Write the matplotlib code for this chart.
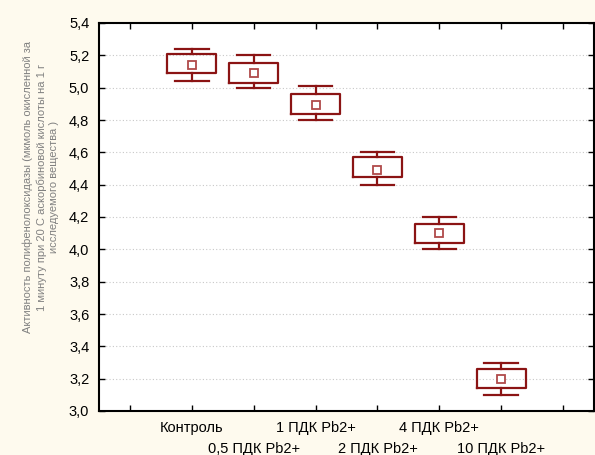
import matplotlib
matplotlib.use("Agg")
import matplotlib.pyplot as plt

plt.rcParams['font.family'] = ['Liberation Sans', 'DejaVu Sans']

# Data
groups = ['Контроль', '0,5 ПДК Pb2+', '1 ПДК Pb2+', '2 ПДК Pb2+', '4 ПДК Pb2+', '10 ПДК Pb2+']
means = [5.14, 5.09, 4.895, 4.49, 4.10, 3.20]
box_lo = [5.09, 5.03, 4.84, 4.45, 4.04, 3.145]
box_hi = [5.21, 5.15, 4.96, 4.57, 4.155, 3.26]
whisk_lo = [5.04, 5.00, 4.80, 4.40, 4.00, 3.10]
whisk_hi = [5.24, 5.20, 5.01, 4.60, 4.20, 3.30]
yticks = [3.0, 3.2, 3.4, 3.6, 3.8, 4.0, 4.2, 4.4, 4.6, 4.8, 5.0, 5.2, 5.4]

RED = '#8b1414'
BG = '#fefaee'

fig = plt.figure(figsize=(5.95, 4.55), dpi=100, facecolor=BG)
ax = fig.add_axes([99 / 595, 1 - 411 / 455, 495 / 595, 388 / 455])
ax.set_facecolor('white')

positions = list(range(1, len(groups) + 1))
stats = []
for i in range(len(groups)):
    stats.append({'med': means[i], 'mean': means[i], 'q1': box_lo[i], 'q3': box_hi[i],
                  'whislo': whisk_lo[i], 'whishi': whisk_hi[i], 'fliers': []})

ax.bxp(stats, positions=positions, widths=0.79, capwidths=0.54, showmeans=True,
       boxprops=dict(color=RED, linewidth=1.6),
       whiskerprops=dict(color=RED, linewidth=1.6),
       capprops=dict(color=RED, linewidth=1.6),
       medianprops=dict(linestyle='none'),
       meanprops=dict(marker='s', markersize=5.5, markerfacecolor='white',
                      markeredgecolor='#b04a4a', markeredgewidth=1.3),
       zorder=3)

ax.set_xlim(-0.5, 7.5)
ax.set_ylim(3.0, 5.4)
ax.set_yticks(yticks)
ax.set_yticklabels([f'{v:.1f}'.replace('.', ',') for v in yticks])
ax.yaxis.grid(True, linestyle=(0, (1, 2)), color='#c8c8c8', linewidth=0.8)
ax.set_axisbelow(True)

# labels on two rows: odd groups on major ticks, even groups on minor ticks
major_pos = [0] + positions[0::2] + [7]
minor_pos = positions[1::2]
ax.set_xticks(major_pos)
ax.set_xticklabels([''] + groups[0::2] + [''], fontsize=10.5)
ax.set_xticks(minor_pos, minor=True)
ax.set_xticklabels(groups[1::2], minor=True, fontsize=10.5)

ax.tick_params(axis='both', which='both', direction='in', length=4, width=1, top=True, right=True)
ax.tick_params(axis='y', labelsize=10.5, pad=7)
ax.tick_params(axis='x', which='major', pad=7.5)
ax.tick_params(axis='x', which='minor', pad=22)
for s in ax.spines.values():
    s.set_linewidth(1.5)

fig.text(41 / 595, 1 - 187 / 455,
         'Активность полифенолоксидазы (мкмоль окисленной за\n'
         '1 минуту при 20 С аскорбиновой кислоты на 1 г\n'
         'исследуемого вещества )',
         rotation=90, ha='center', va='center', fontsize=8, color='#808080',
         linespacing=1.35)

fig.savefig('out.png', dpi=100, facecolor=BG)
